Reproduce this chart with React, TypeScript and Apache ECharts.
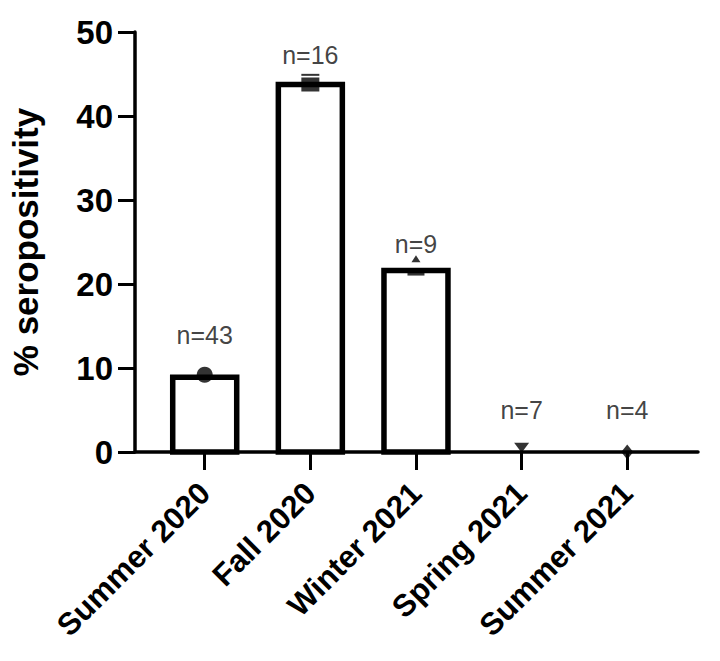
import React, { useEffect, useRef } from "react";
import * as echarts from "echarts";

const categories = ["Summer 2020", "Fall 2020", "Winter 2021", "Spring 2021", "Summer 2021"];
const barValues = [8.9, 43.75, 21.6, 0, 0];
const pointValues = [9.2, 43.75, 23.0, 0.5, 0];
const pointSymbols = ["circle", "rect", "triangle", "triangle", "diamond"];
const pointSizes: [number, number][] = [[16, 16], [18, 14], [9, 7], [15, 10], [12, 15]];
const pointRotations = [0, 0, 0, 180, 0];
const capValues = [44.9, 21.3];
const capIndex = [1, 2];
const capSizes: [number, number][] = [[18, 2], [17, 5]];
const nLabels = ["n=43", "n=16", "n=9", "n=7", "n=4"];
const nLabelPos = [13.9, 47.3, 24.8, 5.0, 5.0];

const FONT = "'Liberation Sans', Arial, Helvetica, sans-serif";

export default function App() {
  const ref = useRef<HTMLDivElement>(null);
  useEffect(() => {
    if (!ref.current) return;
    const chart = echarts.init(ref.current, null, { renderer: "svg" });
    const idx = categories.map((_, i) => i);
    chart.setOption({
      animation: false,
      backgroundColor: "#ffffff",
      grid: { left: 133, top: 32, right: 22, bottom: 209, containLabel: false },
      xAxis: {
        type: "value",
        min: -0.66,
        max: 4.67,
        splitLine: { show: false },
        axisLine: { show: true, onZero: false, lineStyle: { color: "#000", width: 3.5 } },
        axisTick: { show: true, customValues: idx, length: 18, lineStyle: { color: "#000", width: 3 } },
        axisLabel: {
          show: true,
          customValues: idx,
          formatter: (v: number) => categories[Math.round(v)] ?? "",
          rotate: 45,
          margin: 36,
          color: "#000",
          fontFamily: FONT,
          fontWeight: "bold",
          fontSize: 31,
        },
      },
      yAxis: {
        type: "value",
        min: 0,
        max: 50,
        interval: 10,
        name: "% seropositivity",
        nameLocation: "middle",
        nameGap: 92,
        nameRotate: 90,
        nameTextStyle: { color: "#000", fontFamily: FONT, fontWeight: "bold", fontSize: 35 },
        splitLine: { show: false },
        axisLine: { show: true, onZero: false, lineStyle: { color: "#000", width: 3.5 } },
        axisTick: { show: true, length: 17, lineStyle: { color: "#000", width: 3 } },
        axisLabel: {
          color: "#000",
          margin: 22,
          fontFamily: FONT,
          fontWeight: "bold",
          fontSize: 33,
        },
      },
      series: [
        {
          type: "custom",
          encode: { x: 0, y: 1 },
          data: idx.map((i) => [i, barValues[i]]),
          renderItem: (params: any, api: any) => {
            const v = api.value(1);
            if (!v) return null;
            const x = api.value(0);
            const top = api.coord([x, v]);
            const base = api.coord([x, 0]);
            const w = 64;
            return {
              type: "rect",
              shape: { x: top[0] - w / 2, y: top[1], width: w, height: base[1] - top[1] },
              style: { fill: "#ffffff", stroke: "#000", lineWidth: 5.5 },
            };
          },
          z: 2,
        },
        {
          type: "scatter",
          data: idx.map((i) => ({
            value: [i, pointValues[i]],
            symbol: pointSymbols[i],
            symbolSize: pointSizes[i],
            symbolRotate: pointRotations[i],
          })),
          itemStyle: { color: "#000" },
          z: 4,
        },
        {
          type: "scatter",
          data: capIndex.map((ci, k) => ({
            value: [ci, capValues[k]],
            symbol: "rect",
            symbolSize: capSizes[k],
          })),
          itemStyle: { color: "#000" },
          z: 4,
        },
        {
          type: "scatter",
          symbol: "circle",
          symbolSize: 1,
          data: idx.map((i) => ({ value: [i, nLabelPos[i]], name: nLabels[i] })),
          itemStyle: { color: "rgba(0,0,0,0)" },
          label: {
            show: true,
            position: "inside",
            formatter: (p: any) => p.name,
            color: "#111",
            fontFamily: FONT,
            fontSize: 25,
          },
          z: 5,
        },
      ],
    });
    return () => chart.dispose();
  }, []);
  return <div ref={ref} style={{ position: "fixed", left: 0, top: 0, width: 720, height: 661 }} />;
}
